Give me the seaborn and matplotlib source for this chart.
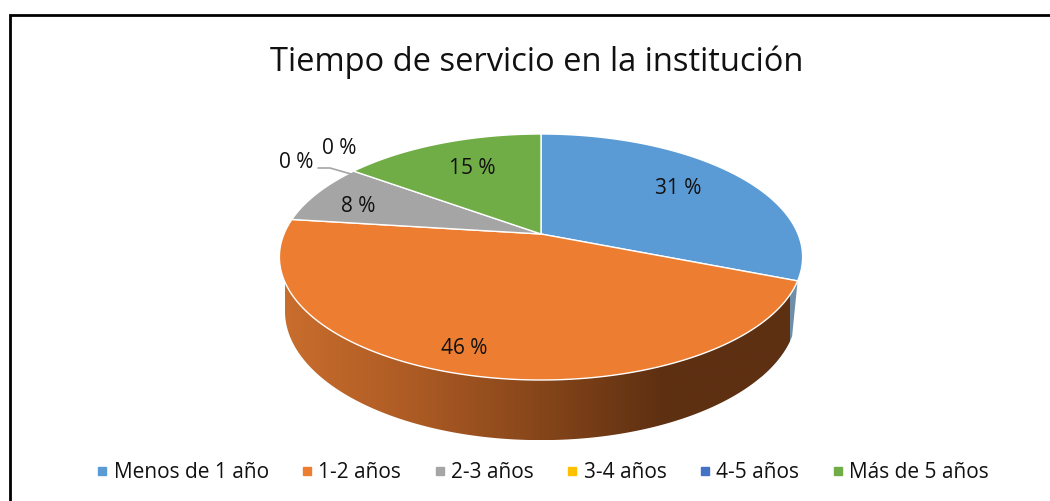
"""
Tiempo de servicio: pastel 3D con perspectiva
"""

import numpy as np
import matplotlib
matplotlib.use("Agg")
import matplotlib.pyplot as plt
from matplotlib.colors import LinearSegmentedColormap
from matplotlib.lines import Line2D
from matplotlib.patches import Polygon
import seaborn as sns

titulo = "Tiempo de servicio en la institución"
categorias = ["Menos de 1 año", "1-2 años", "2-3 años", "3-4 años", "4-5 años", "Más de 5 años"]
valores = [31, 46, 8, 0, 0, 15]
colores = ["#5B9BD5", "#ED7D31", "#A5A5A5", "#FFC000", "#4472C4", "#70AD47"]

sns.set_theme(style="white")
plt.rcParams["font.family"] = ["Open Sans", "DejaVu Sans"]

# perspectiva del disco (en pixeles de la figura)
K = 0.187
CX = 541


def proyecta(theta, r=1.0, cy=234.0, a=118.7, b=257.0):
    # theta como lo da pie: grados, antihorario desde +x
    t = np.radians(theta)
    u, v = r * np.cos(t), r * np.sin(t)
    den = 1 + K * v
    return CX + b * u / den, cy - a * v / den


def pared(t1, t2, n=300):
    # contorno entre el borde superior y el anillo inferior
    th = np.linspace(t1, t2, n)
    x1, y1 = proyecta(th)
    x2, y2 = proyecta(th, cy=287.0, a=124.5, b=251.5)
    return np.vstack([np.column_stack([x1, y1]), np.column_stack([x2, y2])[::-1]])


fig = plt.figure(figsize=(10.5, 5.01), dpi=100)
ax = fig.add_axes([0, 0, 1, 1])
palette = sns.color_palette(colores)

# pie solo reparte los angulos, luego se proyecta cada cuña
wedges, _ = ax.pie(valores, colors=palette, startangle=90, counterclock=False)
angulos = [(w.theta1, w.theta2) for w in wedges]
for w in wedges:
    w.remove()

# pared lateral: azul casi oculta, naranja con degradado
t1, t2 = angulos[0]
ax.add_patch(Polygon(pared(t1 - 18, t1, 40), closed=True, facecolor="#6f8fa8", edgecolor="none", zorder=1))

cmap = LinearSegmentedColormap.from_list("pared", ["#C86D2D", "#AD5B24", "#87461A", "#5E3012", "#5E3012"])
t1, t2 = angulos[1]
izq = -180 + np.degrees(np.arcsin(K))
silueta = Polygon(pared(izq, t2), closed=True, facecolor="none", edgecolor="none", transform=ax.transData)
ax.add_patch(silueta)
img = ax.imshow(np.linspace(0, 1, 256)[None, :], cmap=cmap, extent=(285, 790, 440, 250), aspect="auto",
                interpolation="bilinear", zorder=2)
img.set_clip_path(silueta)

ax.set_aspect("auto")
ax.set_xlim(0, 1050)
ax.set_ylim(501, 0)
ax.axis("off")

# cara superior
for (t1, t2), c, v in zip(angulos, palette, valores):
    if v == 0:
        continue
    x, y = proyecta(np.linspace(t1, t2, 200))
    pts = np.vstack([[CX, 234], np.column_stack([x, y])])
    ax.add_patch(Polygon(pts, closed=True, facecolor=c, edgecolor="white", linewidth=1.0, zorder=3))

# etiquetas
pos_etiquetas = [(678, 188), (464, 348), (358, 207), (296, 163), (339, 148), (472, 169)]
for v, (x, y) in zip(valores, pos_etiquetas):
    ax.text(x, y, f"{v} %", ha="center", va="center", fontsize=15, color="#111111", zorder=5)
ax.plot([318, 330, 351], [168, 168, 174], color="#A5A5A5", lw=1.2, zorder=4)

# marco del grafico
ax.plot([9.5, 9.5, 1050], [501, 15, 15], color="black", lw=2.0, solid_joinstyle="miter", zorder=6)

ax.text(537, 62, titulo, ha="center", va="center", fontsize=23.5, color="#111111")

handles = [Line2D([], [], linestyle="", marker="s", markersize=5.8, color=c) for c in palette]
ax.legend(handles, categorias, loc="center", bbox_to_anchor=(542.5 / 1050, 1 - 473 / 501), ncols=6,
          frameon=False, fontsize=15, labelcolor="#111111", handlelength=0.6, handletextpad=0.24,
          columnspacing=1.55, borderpad=0)

plt.savefig("out.png", dpi=100)
